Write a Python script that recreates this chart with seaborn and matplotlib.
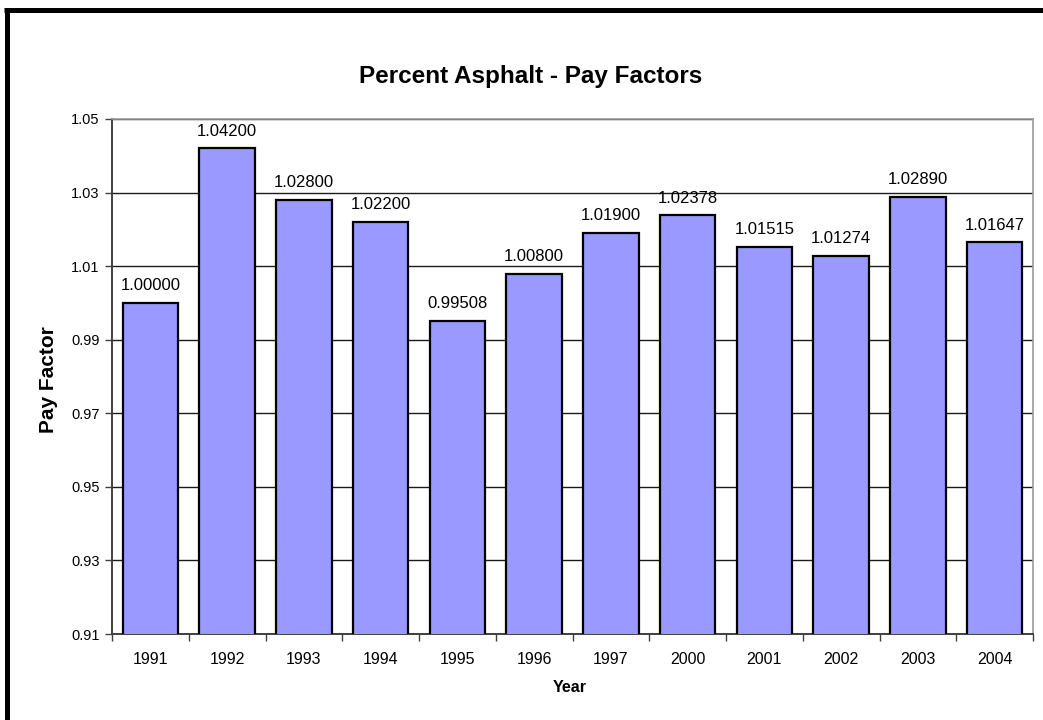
import matplotlib
matplotlib.use("Agg")
import matplotlib.pyplot as plt
import seaborn as sns
import pandas as pd
from matplotlib.lines import Line2D

years = ["1991", "1992", "1993", "1994", "1995", "1996", "1997", "2000", "2001", "2002", "2003", "2004"]
pay_factors = [1.00000, 1.04200, 1.02800, 1.02200, 0.99508, 1.00800, 1.01900, 1.02378, 1.01515, 1.01274, 1.02890, 1.01647]
value_labels = ["1.00000", "1.04200", "1.02800", "1.02200", "0.99508", "1.00800", "1.01900", "1.02378", "1.01515", "1.01274", "1.02890", "1.01647"]
y_ticks = [0.91, 0.93, 0.95, 0.97, 0.99, 1.01, 1.03, 1.05]
y_tick_labels = ["0.91", "0.93", "0.95", "0.97", "0.99", "1.01", "1.03", "1.05"]

df = pd.DataFrame({"Year": years, "Pay Factor": pay_factors})

sns.set_theme(style="white")
plt.rcParams["font.family"] = ["Liberation Sans", "DejaVu Sans"]

W, H = 1043, 720
fig = plt.figure(figsize=(W / 100, H / 100), dpi=100)
fig.patch.set_facecolor("white")

ax_l, ax_r, ax_t, ax_b = 112, 1033, 119, 634
ax = fig.add_axes([ax_l / W, 1 - ax_b / H, (ax_r - ax_l) / W, (ax_b - ax_t) / H])

sns.barplot(data=df, x="Year", y="Pay Factor", ax=ax, color="#9999FF",
            saturation=1, width=0.72, edgecolor="black", linewidth=1.6, zorder=3)

ax.set_ylim(0.91, 1.05)
ax.set_xlim(-0.5, len(years) - 0.5)
ax.set_yticks(y_ticks)
ax.set_yticklabels(y_tick_labels, fontsize=10.5, color="black")
ax.tick_params(axis="y", length=5, width=1, color="#404040", direction="out", pad=4, left=True)
ax.set_xticks([i - 0.5 for i in range(len(years) + 1)], minor=False)
ax.set_xticklabels([""] * (len(years) + 1))
ax.set_xticks(range(len(years)), minor=True)
ax.set_xticklabels(years, minor=True, fontsize=11.5, color="black")
ax.tick_params(axis="x", which="minor", length=0, pad=13)
ax.tick_params(axis="x", which="major", length=5, width=1, color="#404040", direction="out", bottom=True)

ax.yaxis.grid(True, color="#1a1a1a", linewidth=1.0, zorder=0)
ax.set_axisbelow(True)
for side in ["top", "right"]:
    ax.spines[side].set_color("#9a9a9a")
    ax.spines[side].set_linewidth(1.2)
for side in ["left", "bottom"]:
    ax.spines[side].set_color("#404040")
    ax.spines[side].set_linewidth(1.4)
for side in ["top", "right", "left", "bottom"]:
    ax.spines[side].set_visible(True)

for i, (v, lab) in enumerate(zip(pay_factors, value_labels)):
    ax.annotate(lab, (i, v), xytext=(0, 7), textcoords="offset points",
                ha="center", va="bottom", fontsize=12, color="black")

ax.set_xlabel("")
ax.set_ylabel("")
fig.text(48 / W, 1 - 380 / H, "Pay Factor", rotation=90, ha="center", va="center",
         fontsize=15, fontweight="bold", color="black")
fig.text(570 / W, 1 - 687 / H, "Year", ha="center", va="center",
         fontsize=11.5, fontweight="bold", color="black")
fig.text(531 / W, 1 - 76 / H, "Percent Asphalt - Pay Factors", ha="center", va="center",
         fontsize=17.5, fontweight="bold", color="black")

# frame border (top and left, as in the reference)
fig.add_artist(Line2D([4 / W, 1.0], [1 - 9.5 / H, 1 - 9.5 / H], transform=fig.transFigure,
                      color="black", linewidth=3.6, solid_capstyle="butt"))
fig.add_artist(Line2D([6.5 / W, 6.5 / W], [0.0, 1 - 7.5 / H], transform=fig.transFigure,
                      color="black", linewidth=3.6, solid_capstyle="butt"))

fig.savefig("out.png", dpi=100, facecolor="white")
